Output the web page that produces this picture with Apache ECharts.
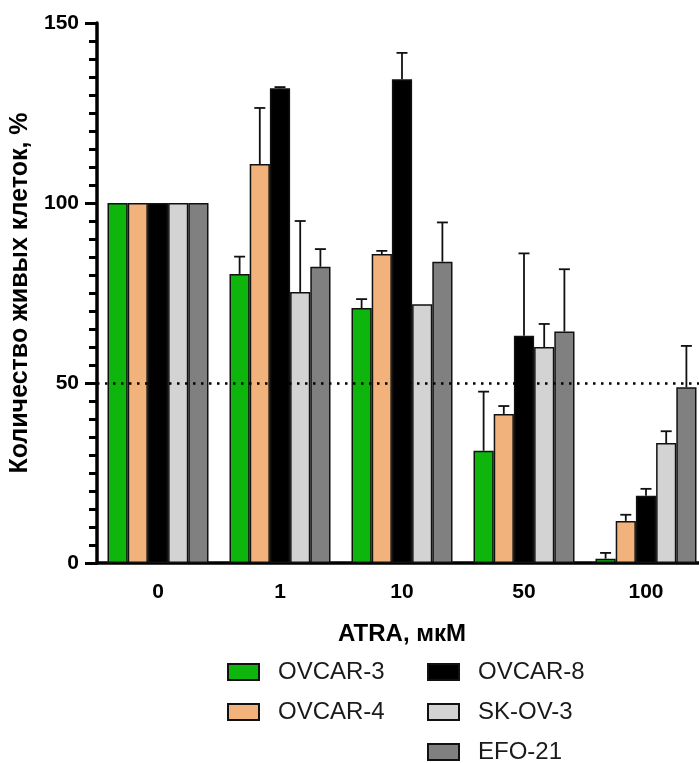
<!DOCTYPE html>
<html>
<head>
<meta charset="utf-8">
<script src="https://cdn.jsdelivr.net/npm/echarts@6/dist/echarts.min.js"></script>
<style>html,body{margin:0;padding:0;background:#fff}#c{width:699px;height:763px}</style>
</head>
<body>
<div id="c"></div>
<script>
var categories = ['0', '1', '10', '50', '100'];
var seriesNames = ['OVCAR-3', 'OVCAR-4', 'OVCAR-8', 'SK-OV-3', 'EFO-21'];
var ovcar3 = [100, 80.3, 70.8, 31.2, 1.2];
var ovcar3Err = [0, 4.8, 2.5, 16.4, 1.6];
var ovcar4 = [100, 110.8, 85.8, 41.4, 11.7];
var ovcar4Err = [0, 15.6, 0.9, 2.2, 1.7];
var ovcar8 = [100, 131.9, 134.4, 63.1, 18.7];
var ovcar8Err = [0, 0.3, 7.3, 22.9, 1.9];
var skov3 = [100, 75.3, 71.9, 60.0, 33.3];
var skov3Err = [0, 19.7, 0, 6.4, 3.3];
var efo21 = [100, 82.3, 83.7, 64.3, 48.8];
var efo21Err = [0, 4.9, 10.9, 17.3, 11.5];
var thresholdLine = 50;
var yTicks = [0, 50, 100, 150];

var means = [ovcar3, ovcar4, ovcar8, skov3, efo21];
var errs = [ovcar3Err, ovcar4Err, ovcar8Err, skov3Err, efo21Err];
var colors = ['#0DB50D', '#F2B27C', '#000000', '#D3D3D3', '#808080'];
var BAR_W = 20.2;

var chart = echarts.init(document.getElementById('c'), null, {renderer: 'canvas'});
var series = [];
means.forEach(function (vals, i) {
  series.push({
    name: seriesNames[i],
    type: 'bar',
    data: vals,
    barWidth: BAR_W,
    barGap: '0%',
    z: 3,
    itemStyle: {color: colors[i], borderColor: '#111', borderWidth: 1.5},
    emphasis: {disabled: true}
  });
});
means.forEach(function (vals, i) {
  series.push({
    type: 'custom',
    z: 5,
    silent: true,
    data: vals.map(function (v, k) { return [k, v, errs[i][k]]; }),
    renderItem: function (params, api) {
      var k = api.value(0), m = api.value(1), e = api.value(2);
      if (!e) return null;
      var base = api.coord([k, m]);
      var top = api.coord([k, m + e]);
      var x = base[0] + (i - 2) * BAR_W;
      var cap = 5.5;
      var st = {stroke: '#111', lineWidth: 1.8};
      return {
        type: 'group',
        children: [
          {type: 'line', shape: {x1: x, y1: base[1], x2: x, y2: top[1]}, style: st},
          {type: 'line', shape: {x1: x - cap, y1: top[1], x2: x + cap, y2: top[1]}, style: st}
        ]
      };
    }
  });
});
series.push({
  type: 'line',
  data: [],
  z: 1,
  silent: true,
  markLine: {
    silent: true,
    symbol: 'none',
    label: {show: false},
    lineStyle: {color: '#000', type: [2.5, 5.5], width: 2.5},
    data: [{yAxis: thresholdLine}]
  }
});

var legendText = {fontFamily: 'Liberation Sans', fontSize: 24, color: '#1a1a1a', padding: [0, 0, 0, 14]};
function legendOf(names, left) {
  return {
    data: names.map(function (n) { return {name: n, icon: 'rect'}; }),
    orient: 'vertical', left: left, top: 660, height: 110, padding: 0,
    itemWidth: 31, itemHeight: 16, itemGap: 16,
    textStyle: legendText, selectedMode: false
  };
}
var option = {
  backgroundColor: '#fff',
  animation: false,
  grid: {left: 97, top: 23, width: 610, height: 540, containLabel: false, outerBoundsMode: 'none'},
  legend: [legendOf(seriesNames.slice(0, 2), 227), legendOf(seriesNames.slice(2), 427)],
  xAxis: {
    type: 'category',
    data: categories,
    name: 'ATRA, мкМ',
    nameLocation: 'middle',
    nameGap: 59,
    nameTextStyle: {fontFamily: 'Liberation Sans', fontWeight: 'bold', fontSize: 24, color: '#000'},
    axisLine: {lineStyle: {color: '#000', width: 3.5}},
    axisTick: {alignWithLabel: true, length: 11, lineStyle: {color: '#000', width: 3.5}},
    axisLabel: {fontFamily: 'Liberation Sans', fontWeight: 'bold', fontSize: 21, color: '#000', margin: 19},
    splitLine: {show: false}
  },
  yAxis: {
    type: 'value',
    min: yTicks[0],
    max: yTicks[yTicks.length - 1],
    interval: yTicks[1] - yTicks[0],
    name: 'Количество живых клеток, %',
    nameLocation: 'middle',
    nameGap: 54,
    nameTextStyle: {fontFamily: 'Liberation Sans', fontWeight: 'bold', fontSize: 25, color: '#000'},
    axisLine: {show: true, lineStyle: {color: '#000', width: 3.5}},
    axisTick: {show: true, length: 12, lineStyle: {color: '#000', width: 3}},
    minorTick: {show: true, splitNumber: 10, length: 8, lineStyle: {color: '#000', width: 3}},
    axisLabel: {fontFamily: 'Liberation Sans', fontWeight: 'bold', fontSize: 21, color: '#000', margin: 18},
    splitLine: {show: false}
  },
  series: series
};
chart.setOption(option);
</script>
</body>
</html>
